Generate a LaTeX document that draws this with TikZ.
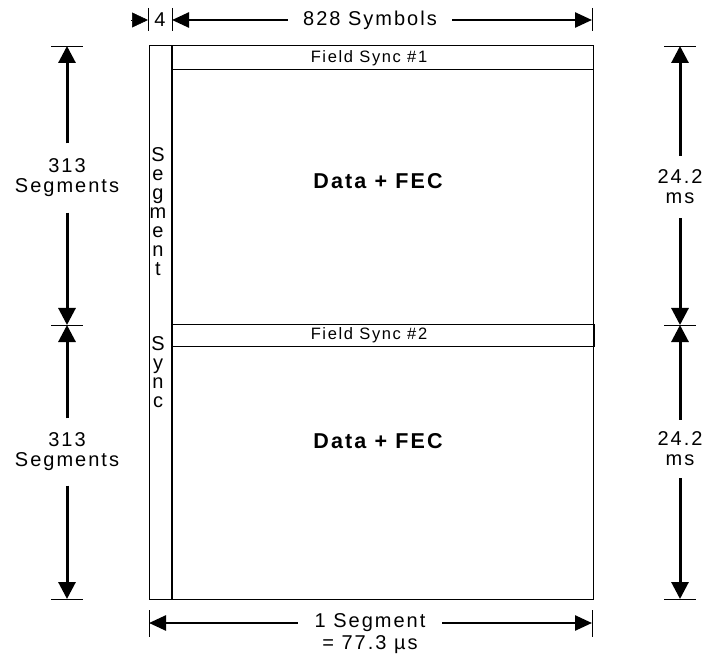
\documentclass[tikz,border=0pt]{standalone}
\usepackage{fontspec}
\setmainfont{Liberation Sans}[LetterSpace=10]
\usetikzlibrary{arrows.meta}
\tikzset{
  lbl/.style={font=\fontsize{20}{20}\selectfont, align=center, inner sep=0pt},
  vert/.style={font=\fontsize{20}{19}\selectfont, align=center, inner sep=0pt},
  small/.style={font=\fontsize{16.5}{18}\selectfont, inner sep=0pt},
  big/.style={font=\fontsize{21.5}{23}\selectfont\bfseries, inner sep=0pt},
  dimv/.style={line width=3pt, -{Triangle[length=17pt,width=17pt]}},
  dimh/.style={line width=2.5pt, -{Triangle[length=17pt,width=15pt]}},
  tick/.style={line width=0.9pt},
  frame/.style={line width=1pt},
  divider/.style={line width=2pt},
}
\begin{document}
\begin{tikzpicture}[x=1pt,y=-1pt]
\useasboundingbox[fill=white] (0,0) rectangle (704,660);

% main frame and boxes
\draw[frame] (149,46) rectangle (593,599);
\draw[frame] (172,46) rectangle (593,70);
\draw[frame] (172,324) rectangle (594,346);
\draw[divider] (172,46) -- (172,599);

\node[small] (fs1) at (369,58) {Field Sync \#1};
\node[small] (fs2) at (369,335) {Field Sync \#2};
\node[big] (d1) at (378,181) {Data + FEC};
\node[big] (d2) at (378,441) {Data + FEC};

\node[vert] (ss1) at (158,212) {S\\e\\g\\m\\e\\n\\t};
\node[vert] (ss2) at (158,372) {S\\y\\n\\c};

% top dimension
\coordinate (t1) at (148,20);
\coordinate (t2) at (172,20);
\coordinate (t3) at (592,20);
\coordinate (t0) at (131,20);
\draw[tick] (148,8) -- (148,31);
\draw[tick] (172,8) -- (172,31);
\draw[tick] (592,8) -- (592,31);
\node[lbl] (four) at (160,20) {4};
\draw[line width=0.5pt, -{Triangle[length=16pt,width=15pt]}] (t0) -- (t1);
\node[lbl, minimum width=164pt, minimum height=20pt] (sym) at (370,20) {828 Symbols};
\draw[dimh] (sym.west) -- (t2);
\draw[dimh] (sym.east) -- (t3);

% left dimensions
\coordinate (L1) at (67,46);
\coordinate (L2) at (67,325);
\coordinate (L3) at (67,599);
\draw[tick] (51,46) -- (83,46);
\draw[tick] (51,325) -- (83,325);
\draw[tick] (51,599) -- (83,599);
\node[lbl, minimum height=69pt] (ls1) at (67,178) {313\\Segments};
\node[lbl, minimum height=67pt] (ls2) at (67,452) {313\\Segments};
\draw[dimv] (ls1.north) -- (L1);
\draw[dimv] (ls1.south) -- (L2);
\draw[dimv] (ls2.north) -- (L2);
\draw[dimv] (ls2.south) -- (L3);

% right dimensions
\coordinate (R1) at (680,46);
\coordinate (R2) at (680,325);
\coordinate (R3) at (680,599);
\draw[tick] (664,46) -- (696,46);
\draw[tick] (664,325) -- (696,325);
\draw[tick] (664,599) -- (696,599);
\node[lbl, minimum height=62pt] (rs1) at (680,187) {24.2\\ms};
\node[lbl, minimum height=58pt] (rs2) at (680,449) {24.2\\ms};
\draw[dimv] (rs1.north) -- (R1);
\draw[dimv] (rs1.south) -- (R2);
\draw[dimv] (rs2.north) -- (R2);
\draw[dimv] (rs2.south) -- (R3);

% bottom dimension
\coordinate (B1) at (149,623);
\coordinate (B2) at (592,623);
\draw[tick] (149,610) -- (149,637);
\draw[tick] (592,610) -- (592,637);
\node[lbl, minimum width=144pt, minimum height=20pt] (seg) at (370,623) {1 Segment};
\node[lbl] (us) at (370,645) {= 77.3 µs};
\draw[dimh] (seg.west) -- (B1);
\draw[dimh] (seg.east) -- (B2);
\end{tikzpicture}
\end{document}
